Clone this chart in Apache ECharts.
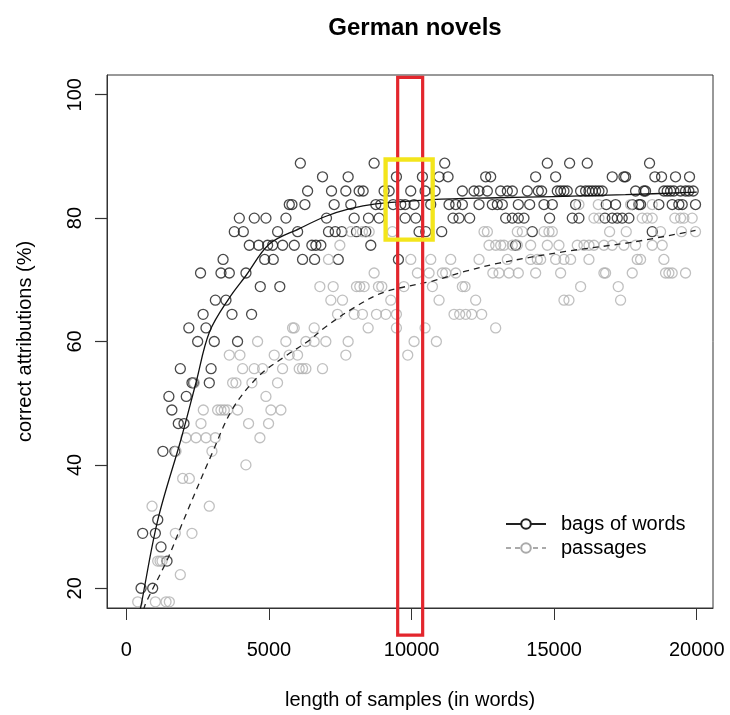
<!DOCTYPE html>
<html>
<head>
<meta charset="utf-8">
<script src="https://cdn.jsdelivr.net/npm/echarts@6/dist/echarts.min.js"></script>
<style>html,body{margin:0;padding:0;background:#fff}#c{width:730px;height:715px}</style>
</head>
<body>
<div id="c"></div>
<script>
// ---------- data ----------
const xTicks = [0, 5000, 10000, 15000, 20000];
const yTicks = [20, 40, 60, 80, 100];

// bags of words: [length of sample, % correct]
const bagsOfWords = [
 [514,20],[922,20],[1425,24.4],[1214,26.7],[571,28.9],[1016,28.9],[1100,31.1],
 [1280,42.2],[1700,42.2],[1820,46.7],[2020,46.7],[1595,48.9],[1490,51.1],[2100,51.1],
 [2300,53.3],[2358,53.3],[2907,53.3],[1891,55.6],[2970,55.6],[2499,60],[3082,60],[3898,60],
 [2190,62.2],[2791,62.2],[2690,64.4],[3703,64.4],[4390,64.4],[3120,66.7],[3492,66.7],
 [4695,68.9],[5380,68.9],[2600,71.1],[3317,71.1],[3609,71.1],[4193,71.1],
 [3390,73.3],[4850,73.3],[5150,73.3],[6177,73.3],[6600,73.3],[7430,73.3],[9539,73.3],
 [4310,75.6],[4637,75.6],[4952,75.6],[5128,75.6],[5479,75.6],[5887,75.6],[6504,75.6],[6644,75.6],[6819,75.6],[8570,75.6],[13650,75.6],
 [3784,77.8],[4100,77.8],[5303,77.8],[6004,77.8],[7087,77.8],[7321,77.8],[7555,77.8],[8068,77.8],[8395,77.8],[10263,77.8],[10497,77.8],[11057,77.8],[14234,77.8],[18439,77.8],
 [3960,80],[4485,80],[4894,80],[5595,80],[7017,80],[7987,80],[8489,80],[8862,80],[9773,80],[10147,80],[11454,80],[11664,80],[12038,80],
 [13300,80],[13533,80],[13743,80],[13942,80],[14841,80],[15636,80],[15869,80],[16780,80],[17037,80],[17213,80],[17387,80],[17621,80],
 [5712,82.2],[5805,82.2],[6260,82.2],[7286,82.2],[7870,82.2],[8746,82.2],[8921,82.2],[9353,82.2],[9621,82.2],[9773,82.2],[10088,82.2],
 [10672,82.2],[11314,82.2],[11548,82.2],[11781,82.2],[12365,82.2],[12832,82.2],[13007,82.2],[13182,82.2],[13743,82.2],[14141,82.2],
 [14643,82.2],[14935,82.2],[15752,82.2],[16827,82.2],[17154,82.2],[17738,82.2],[17972,82.2],[18030,82.2],[18672,82.2],[19139,82.2],
 [19373,82.2],[19490,82.2],[19957,82.2],
 [6354,84.4],[7193,84.4],[7695,84.4],[8162,84.4],[8302,84.4],[9037,84.4],[9213,84.4],[9971,84.4],[10474,84.4],[10824,84.4],[11781,84.4],
 [12190,84.4],[12365,84.4],[12657,84.4],[13124,84.4],[13358,84.4],[13533,84.4],[14059,84.4],[14444,84.4],[14561,84.4],[15110,84.4],
 [15227,84.4],[15344,84.4],[15460,84.4],[15928,84.4],[16103,84.4],[16220,84.4],[16336,84.4],[16453,84.4],[16570,84.4],[16687,84.4],
 [17855,84.4],[18147,84.4],[18205,84.4],[18848,84.4],[18964,84.4],[19081,84.4],[19198,84.4],[19432,84.4],[19607,84.4],[19724,84.4],[19876,84.4],
 [6877,86.7],[7776,86.7],[9469,86.7],[10380,86.7],[10964,86.7],[11279,86.7],[12599,86.7],[12774,86.7],[14351,86.7],[15052,86.7],
 [17037,86.7],[17446,86.7],[17504,86.7],[18532,86.7],[18766,86.7],[19256,86.7],[19747,86.7],
 [6100,88.9],[8687,88.9],[11162,88.9],[14760,88.9],[15542,88.9],[16161,88.9],[18345,88.9]
];

// passages: [length of sample, % correct]
const passages = [
 [397,17.8],[1016,17.8],[1390,17.8],[1506,17.8],[1891,22.2],[1098,24.4],[1180,24.4],[1250,24.4],
 [1716,28.9],[2300,28.9],[899,33.3],[2907,33.3],[1973,37.8],[2207,37.8],[4191,40],[1740,42.2],[3000,42.2],
 [2090,44.4],[2441,44.4],[2791,44.4],[3117,44.4],[4682,44.4],[2616,46.7],[4284,46.7],[4985,46.7],
 [2697,48.9],[3199,48.9],[3316,48.9],[3433,48.9],[3549,48.9],[3900,48.9],[5068,48.9],[5418,48.9],[4893,51.1],
 [2382,53.3],[3725,53.3],[3842,53.3],[4402,53.3],[5300,53.3],
 [4075,55.6],[4483,55.6],[4775,55.6],[5476,55.6],[6060,55.6],[6177,55.6],[6294,55.6],[6877,55.6],
 [3608,57.8],[3982,57.8],[5184,57.8],[5709,57.8],[6002,57.8],[7695,57.8],[9866,57.8],
 [4600,60],[5592,60],[6293,60],[6585,60],[6994,60],[7776,60],[10088,60],[10870,60],
 [5826,62.2],[5885,62.2],[6585,62.2],[8477,62.2],[9469,62.2],[10474,62.2],[12949,62.2],
 [7403,64.4],[7987,64.4],[8278,64.4],[8769,64.4],[9096,64.4],[9469,64.4],[11489,64.4],[11688,64.4],[11898,64.4],[12108,64.4],[12459,64.4],
 [7169,66.7],[7578,66.7],[9271,66.7],[10964,66.7],[12248,66.7],[15344,66.7],[15519,66.7],[17329,66.7],
 [6784,68.9],[7251,68.9],[8068,68.9],[8185,68.9],[8337,68.9],[8839,68.9],[8956,68.9],[9730,68.9],[10731,68.9],[11781,68.9],[11875,68.9],[15928,68.9],[17247,68.9],
 [8687,71.1],[10205,71.1],[10614,71.1],[11081,71.1],[11197,71.1],[11549,71.1],[12850,71.1],[13066,71.1],[13416,71.1],[13743,71.1],
 [14351,71.1],[15227,71.1],[16745,71.1],[16803,71.1],[17738,71.1],[18906,71.1],[19023,71.1],[19139,71.1],[19607,71.1],
 [7087,73.3],[9972,73.3],[10673,73.3],[11373,73.3],[12366,73.3],[13358,73.3],[14176,73.3],[14409,73.3],[14526,73.3],[15052,73.3],
 [15344,73.3],[15577,73.3],[16220,73.3],[17913,73.3],[18030,73.3],[18848,73.3],
 [7485,75.6],[12716,75.6],[12950,75.6],[13124,75.6],[13241,75.6],[13533,75.6],[13708,75.6],[14176,75.6],[14760,75.6],[15168,75.6],
 [15811,75.6],[16045,75.6],[16220,75.6],[16395,75.6],[16745,75.6],[17037,75.6],[17446,75.6],[17855,75.6],[18439,75.6],[18789,75.6],
 [7870,77.8],[8279,77.8],[8513,77.8],[9330,77.8],[12541,77.8],[12658,77.8],[13708,77.8],[13884,77.8],[14643,77.8],[14818,77.8],
 [14935,77.8],[16944,77.8],[17528,77.8],[18731,77.8],[19467,77.8],[19957,77.8],
 [16395,80],[16570,80],[18088,80],[18264,80],[18439,80],[19233,80],[19432,80],[19549,80],[19840,80],
 [15869,82.2],[16547,82.2],[17680,82.2],[18439,82.2]
];

// fitted curves
const bagsFit = [
 [480,16.5],[514,17.2],[1098,31],[1918,44.2],[2444,53.4],[2910,61.5],[3600,67],[4196,70.7],[5014,75.8],
 [6066,78.3],[7000,80.3],[7811,81.5],[8746,82.3],[10730,83.0],[13000,83.3],[15000,83.5],[17500,83.8],[20000,84.2]
];
const passagesFit = [
 [600,16.5],[690,17.7],[1450,24.8],[1975,30.7],[2970,41.5],[3727,49.1],[4663,54.5],[5600,57.7],[6418,60.2],
 [6936,62.2],[7987,65.5],[9038,68],[10731,69.8],[11899,71.4],[13066,72.7],[15402,74.6],[17738,76.1],[19957,78]
];

// highlight boxes, in data units: [xFrom, xTo], [yFrom, yTo]
const redBoxX = [9513, 10389], redBoxY = [12.4, 102.8];
const yellowBoxX = [9089, 10740], yellowBoxY = [76.5, 89.5];

// ---------- chart ----------
const FONT = '"Liberation Sans", Arial, Helvetica, sans-serif';
const X_MIN = -680, X_MAX = 20570, Y_MIN = 16.8, Y_MAX = 103.2;
const chart = echarts.init(document.getElementById('c'), null, {renderer: 'canvas'});
const ring = (c) => ({color: 'rgba(0,0,0,0)', borderColor: c, borderWidth: 1.3});
const plain = (v) => String(v);

chart.setOption({
  animation: false,
  backgroundColor: '#ffffff',
  textStyle: {fontFamily: FONT},
  title: {
    text: 'German novels', left: 410, top: 11, textAlign: 'center',
    textStyle: {fontSize: 24, fontWeight: 'bold', color: '#000', fontFamily: FONT}
  },
  grid: {left: 107, top: 75, width: 606, height: 534, show: true, borderColor: '#333', borderWidth: 1, backgroundColor: 'transparent'},
  xAxis: {
    type: 'value', min: X_MIN, max: X_MAX,
    name: 'length of samples (in words)', nameLocation: 'middle', nameGap: 82,
    nameTextStyle: {fontSize: 20, color: '#000', fontFamily: FONT},
    axisLine: {show: true, onZero: false, lineStyle: {color: '#333', width: 1}}, splitLine: {show: false},
    axisTick: {show: true, length: 12, customValues: xTicks, lineStyle: {color: '#333', width: 1}},
    axisLabel: {customValues: xTicks, formatter: plain, fontSize: 20, color: '#000', margin: 32, fontFamily: FONT}
  },
  yAxis: {
    type: 'value', min: Y_MIN, max: Y_MAX,
    name: 'correct attributions (%)', nameLocation: 'middle', nameGap: 72, nameRotate: 90,
    nameTextStyle: {fontSize: 20, color: '#000', fontFamily: FONT},
    axisLine: {show: true, onZero: false, lineStyle: {color: '#333', width: 1}}, splitLine: {show: false},
    axisTick: {show: true, inside: false, length: 12, customValues: yTicks, lineStyle: {color: '#333', width: 1.2}},
    axisLabel: {customValues: yTicks, formatter: plain, fontSize: 20, color: '#000', margin: 22, rotate: 90, fontFamily: FONT}
  },
  legend: {
    orient: 'vertical', left: 500, top: 509, itemWidth: 40, itemHeight: 12, itemGap: 4,
    data: ['bags of words', 'passages'],
    textStyle: {fontSize: 20, color: '#000', fontFamily: FONT, padding: [0, 0, 0, 10]}
  },
  series: [
    {type: 'scatter', name: 'bagsPts', data: bagsOfWords, symbol: 'circle', symbolSize: 10, itemStyle: ring('#1c1c1c'), silent: true, z: 2},
    {type: 'scatter', name: 'passagesPts', data: passages, symbol: 'circle', symbolSize: 10, itemStyle: ring('#b0b0b0'), silent: true, z: 3},
    {type: 'line', name: 'bagsFit', data: bagsFit, smooth: 0.35, showSymbol: false, silent: true, lineStyle: {color: '#111', width: 1.3}, z: 4},
    {type: 'line', name: 'passagesFit', data: passagesFit, smooth: 0.35, showSymbol: false, silent: true, lineStyle: {color: '#222', width: 1.3, type: [6, 5]}, z: 4},
    {type: 'line', name: 'bags of words', data: [], symbol: 'emptyCircle', lineStyle: {color: '#222', width: 1.3}, itemStyle: {color: '#222'}},
    {type: 'line', name: 'passages', data: [], symbol: 'emptyCircle', lineStyle: {color: '#aaa', width: 1.3, type: [5, 4]}, itemStyle: {color: '#aaa'}}
  ]
});

function boxGraphic(bx, by, stroke, lw) {
  const a = chart.convertToPixel({gridIndex: 0}, [bx[0], by[1]]);
  const b = chart.convertToPixel({gridIndex: 0}, [bx[1], by[0]]);
  return {type: 'rect', z: 100, silent: true,
    shape: {x: a[0], y: a[1], width: b[0] - a[0], height: b[1] - a[1]},
    style: {fill: null, stroke: stroke, lineWidth: lw}};
}
chart.setOption({graphic: [
  boxGraphic(redBoxX, redBoxY, '#e3262d', 3.2),
  boxGraphic(yellowBoxX, yellowBoxY, '#f3e51b', 4.3)
]});
</script>
</body>
</html>
